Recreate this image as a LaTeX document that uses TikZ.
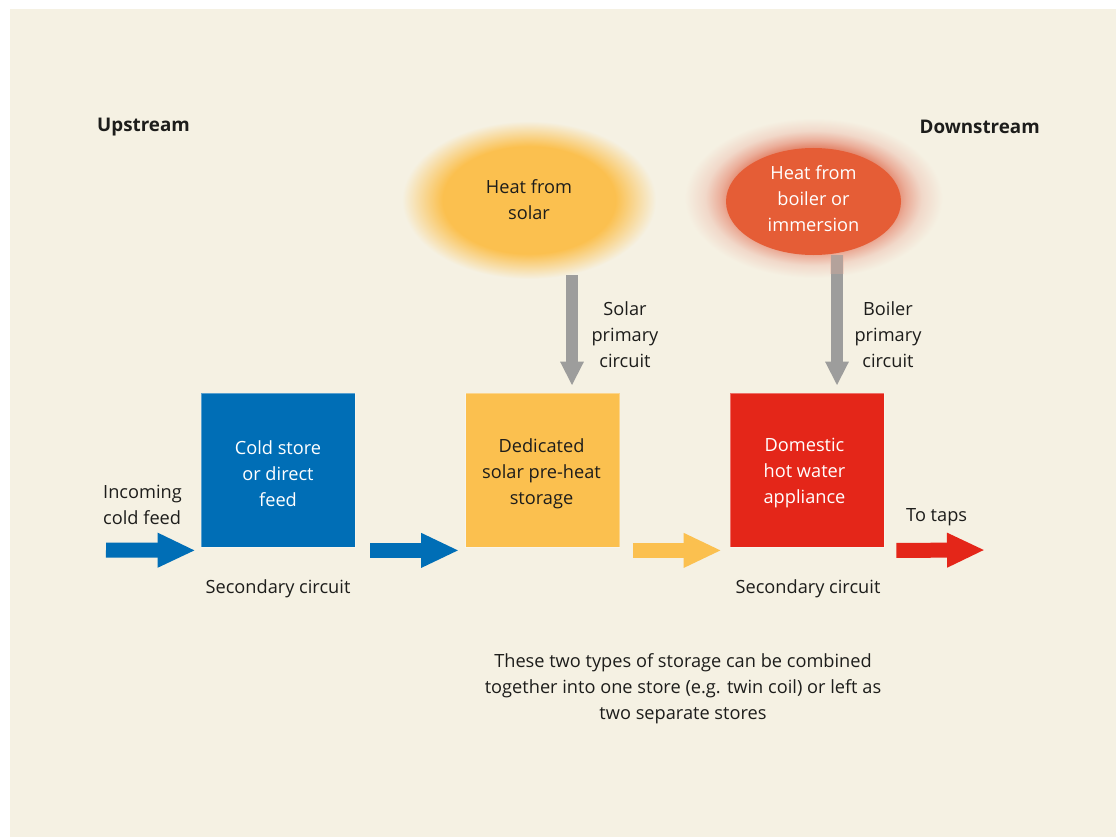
\documentclass[tikz,border=0pt]{standalone}
\usepackage{fontspec}
\setmainfont{Open Sans}
\usetikzlibrary{arrows.meta,shapes.geometric}
\definecolor{bgc}{HTML}{F5F1E3}
\definecolor{coldblue}{HTML}{006EB6}
\definecolor{solaryel}{HTML}{FBC04F}
\definecolor{hotred}{HTML}{E42619}
\definecolor{boilorange}{HTML}{E55D36}
\definecolor{arrowgrey}{HTML}{9D9D9C}
\definecolor{txt}{HTML}{1D1D1B}
\definecolor{glowa}{HTML}{E48A70}
\definecolor{glowb}{HTML}{EBAE9A}
\definecolor{glowc}{HTML}{F1D8C9}
\pgfdeclareradialshading{solarglow}{\pgfpoint{0bp}{0bp}}{color(0bp)=(solaryel); color(17bp)=(solaryel); color(25bp)=(bgc); color(50bp)=(bgc)}
\pgfdeclareradialshading{boilerglow}{\pgfpoint{0bp}{0bp}}{color(0bp)=(glowa); color(16bp)=(glowa); color(18bp)=(glowb); color(21bp)=(glowc); color(25bp)=(bgc); color(50bp)=(bgc)}
\begin{document}
\begin{tikzpicture}[x=1pt,y=-1pt,
  lbl/.style={font=\fontsize{18.2}{26}\selectfont, text=txt, align=center, inner sep=0pt},
  head/.style={font=\fontsize{18.8}{26}\selectfont\bfseries, text=txt, inner sep=0pt},
  store/.style={rectangle, minimum width=154pt, minimum height=154pt, inner sep=0pt, align=center,
    font=\fontsize{18.2}{26}\selectfont, draw=white, draw opacity=0.35, line width=0.8pt},
  flow/.style={line width=15pt, -{Triangle[width=32pt,length=38pt]}},
  primary/.style={draw=arrowgrey, line width=12pt, -{Triangle[width=22pt,length=24pt]}}
]
\useasboundingbox (0,0) rectangle (1116,837);
\fill[white] (0,0) rectangle (1116,837);
\fill[bgc] (10,9) rectangle (1116,837);

% headings
\node[head, anchor=west] (up) at (97,127) {Upstream};
\node[head, anchor=east] (down) at (1040,127) {Downstream};

% heat sources
\node[ellipse, shade, shading=solarglow, minimum width=254pt, minimum height=158pt, inner sep=0pt,
  font=\fontsize{18.2}{26}\selectfont, text=txt, align=center] (sun) at (529,200) {Heat from\\solar};
\node[ellipse, shade, shading=boilerglow, minimum width=258pt, minimum height=160pt, inner sep=0pt] (bglow) at (813.5,198) {};
\node[ellipse, fill=boilorange, minimum width=175pt, minimum height=107pt, inner sep=0pt] (boil) at (813.5,201.5) {};
\node[lbl, text=white] (boiltxt) at (813.5,198.5) {Heat from\\boiler or\\immersion};

% stores
\node[store, fill=coldblue] (cold) at (278,470) {};
\node[store, fill=solaryel] (pre) at (542.5,470) {};
\node[store, fill=hotred] (dhw) at (807,470) {};
\node[lbl, text=white] (coldtxt) at (278,473.5) {Cold store\\or direct\\feed};
\node[lbl] (pretxt) at (541.5,473.5) {Dedicated\\solar pre-heat\\storage};
\node[lbl, text=white] (dhwtxt) at (804.5,473.5) {Domestic\\hot water\\appliance};

% free ends
\coordinate (inc) at (106,550);
\coordinate (taps) at (985,550);

% primary circuits
\draw[primary] ([shift={(43,-4)}]sun.south) -- ([shift={(29.5,-7)}]pre.north);
\draw[primary] ([xshift=23.5pt]boil.south) -- ([shift={(30,-7)}]dhw.north);
\fill[glowb, opacity=0.3] (830,255) rectangle (844,274);

% secondary flow
\draw[flow, draw=coldblue] (inc) -- ([shift={(-5,3)}]cold.south west);
\draw[flow, draw=coldblue] ([shift={(15,3)}]cold.south east) -- ([shift={(-6,3)}]pre.south west);
\draw[flow, draw=solaryel] ([shift={(13,3)}]pre.south east) -- ([shift={(-8,3)}]dhw.south west);
\draw[flow, draw=hotred] ([shift={(12,3)}]dhw.south east) -- (taps);

% labels
\node[lbl] (solarlbl) at (625,335) {Solar\\primary\\circuit};
\node[lbl] (boilerlbl) at (888,335) {Boiler\\primary\\circuit};
\node[lbl, align=left, anchor=west] (inclbl) at (103,505) {Incoming\\cold feed};
\node[lbl] (sec1) at (278,588.5) {Secondary circuit};
\node[lbl] (sec2) at (808,588.5) {Secondary circuit};
\node[lbl, anchor=west] (tapslbl) at (906,517) {To taps};
\node[lbl] (note) at (683,689) {These two types of storage can be combined\\together into one store (e.g. twin coil) or left as\\two separate stores};
\end{tikzpicture}
\end{document}
